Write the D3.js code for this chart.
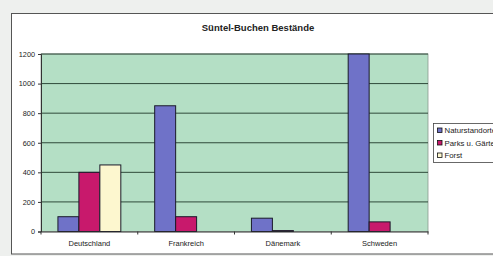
<!DOCTYPE html>
<html>
<head>
<meta charset="utf-8">
<script src="https://cdn.jsdelivr.net/npm/d3@7"></script>
<style>
  body { margin: 0; background: #eef0ee; }
  svg { display: block; }
</style>
</head>
<body>
<div id="chart"></div>
<script>
// data
var countries = ["Deutschland", "Frankreich", "Dänemark", "Schweden"]
var seriesNames = ["Naturstandorte", "Parks u. Gärten", "Forst"]
var natur = [100, 850, 90, 1200]
var parks = [400, 100, 6, 65]
var forst = [450, 0, 0, 0]
var yTicks = [0, 200, 400, 600, 800, 1000, 1200]

var colors = ["#6f72c8", "#c8196c", "#fdf7cf"]

var width = 493, height = 256
var plot = { left: 41, right: 428, top: 54, bottom: 231.5 }

var svg = d3.select("#chart")
	.append("svg")
	.attr("width", width)
	.attr("height", height)
	.style("font-family", "Arial, 'Liberation Sans', sans-serif")

// white chart area with border, runs off to the right
svg.append("rect")
	.attr("x", 11.5).attr("y", 13.5)
	.attr("width", 500).attr("height", 240.5)
	.attr("fill", "#ffffff")
	.attr("stroke", "#555")
	.attr("stroke-width", 1)

svg.append("text")
	.attr("x", 258).attr("y", 31)
	.attr("text-anchor", "middle")
	.attr("font-size", 9.5)
	.attr("font-weight", "bold")
	.attr("fill", "#222")
	.text("Süntel-Buchen Bestände")

var x0 = d3.scaleBand()
	.domain(countries)
	.range([plot.left, plot.right])
	.padding(0)

var gap = x0.bandwidth() * 0.175
var x1 = d3.scaleBand()
	.domain(seriesNames)
	.range([gap, x0.bandwidth() - gap])

var y = d3.scaleLinear()
	.domain([0, 1200])
	.range([plot.bottom, plot.top])

// plot background
svg.append("rect")
	.attr("x", plot.left).attr("y", plot.top)
	.attr("width", plot.right - plot.left)
	.attr("height", plot.bottom - plot.top)
	.attr("fill", "#b4dfc5")
	.attr("stroke", "#8a9a90")
	.attr("stroke-width", 0.8)

// gridlines
svg.append("g")
	.selectAll("line")
	.data(yTicks.filter(function(d){ return d > 0 }))
	.enter()
	.append("line")
	.attr("x1", plot.left).attr("x2", plot.right)
	.attr("y1", function(d){ return y(d) })
	.attr("y2", function(d){ return y(d) })
	.attr("stroke", "#2f4a3a")
	.attr("stroke-width", 1)

// bars
var rows = countries.map(function(c, i) {
	return { country: c, values: [natur[i], parks[i], forst[i]] }
})

var groups = svg.append("g")
	.selectAll("g")
	.data(rows)
	.enter()
	.append("g")
	.attr("transform", function(d){ return "translate(" + x0(d.country) + ",0)" })

groups.selectAll("rect")
	.data(function(d){ return d.values.map(function(v, j){ return { key: seriesNames[j], value: v, idx: j } }) })
	.enter()
	.filter(function(d){ return d.value > 0 })
	.append("rect")
	.attr("x", function(d){ return x1(d.key) })
	.attr("width", x1.bandwidth())
	.attr("y", function(d){ return y(d.value) })
	.attr("height", function(d){ return y(0) - y(d.value) })
	.attr("fill", function(d){ return colors[d.idx] })
	.attr("stroke", "#1a1a2a")
	.attr("stroke-width", 1)

// y axis
var yAxis = svg.append("g")
	.attr("transform", "translate(" + plot.left + ",0)")
	.call(d3.axisLeft(y).tickValues(yTicks).tickSize(3).tickPadding(3).tickFormat(d3.format("d")))
yAxis.select(".domain").attr("stroke", "#333")
yAxis.selectAll("line").attr("stroke", "#333")
yAxis.selectAll("text").attr("font-size", 7.3).attr("fill", "#222").attr("font-family", null)

// x axis
var xAxis = svg.append("g")
	.attr("transform", "translate(0," + plot.bottom + ")")
	.call(d3.axisBottom(x0).tickSize(0).tickPadding(9))
xAxis.select(".domain").attr("stroke", "#333")
xAxis.selectAll("text").attr("font-size", 7.5).attr("fill", "#222").attr("font-family", null)

// tick marks between categories
svg.append("g")
	.selectAll("line")
	.data(countries.concat(["end"]))
	.enter()
	.append("line")
	.attr("x1", function(d, i){ return plot.left + i * x0.step() })
	.attr("x2", function(d, i){ return plot.left + i * x0.step() })
	.attr("y1", plot.bottom).attr("y2", plot.bottom + 3)
	.attr("stroke", "#333")

// legend
var legend = svg.append("g").attr("transform", "translate(433.5,123.5)")
legend.append("rect")
	.attr("width", 90).attr("height", 39)
	.attr("fill", "#fff")
	.attr("stroke", "#444")
	.attr("stroke-width", 0.8)

var items = legend.selectAll("g.item")
	.data(seriesNames)
	.enter()
	.append("g")
	.attr("transform", function(d, i){ return "translate(4," + (7 + i * 12.5) + ")" })

items.append("rect")
	.attr("x", 0).attr("y", -2.5)
	.attr("width", 4.5).attr("height", 4.5)
	.attr("fill", function(d, i){ return colors[i] })
	.attr("stroke", "#111")
	.attr("stroke-width", 0.8)

items.append("text")
	.attr("x", 7).attr("y", 2.6)
	.attr("font-size", 7.8)
	.attr("fill", "#222")
	.text(function(d){ return d })
</script>
</body>
</html>
